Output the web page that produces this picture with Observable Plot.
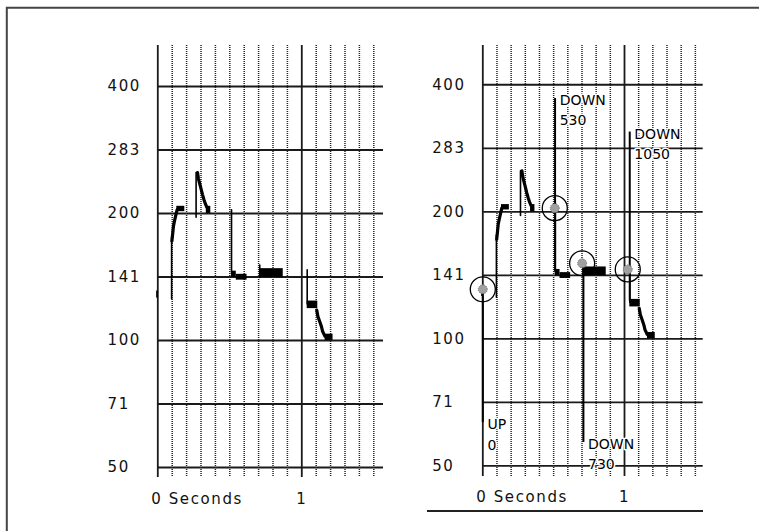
<!DOCTYPE html>
<html>
<head>
<meta charset="utf-8">
<script src="https://cdn.jsdelivr.net/npm/d3@7"></script>
<script src="https://cdn.jsdelivr.net/npm/@observablehq/plot@0.6"></script>
<style>
html, body { margin: 0; padding: 0; background: #fff; }
#wrap { position: relative; width: 764px; height: 531px; overflow: hidden; background: #fff; }
#wrap > svg { position: absolute; top: 0; margin: 0; }
</style>
</head>
<body>
<div id="wrap"></div>
<script>
// ---- axis ticks ----
const yTickValues = [50, 70.71, 100, 141.42, 200, 282.84, 400];
const yTickLabels = ["50", "71", "100", "141", "200", "283", "400"];
const xMajorTicks = [0, 1];
const xMajorLabels = ["0 Seconds", "1"];
const xMinorTicks = [0.1, 0.2, 0.3, 0.4, 0.5, 0.6, 0.7, 0.8, 0.9, 1.1, 1.2, 1.3, 1.4, 1.5];

// ---- pitch track (seconds, Hz) ----
const thinTrack = [
  {seg: "s1", t: 0.096, f: 125.5}, {seg: "s1", t: 0.096, f: 176},
  {seg: "s2", t: 0.266, f: 196}, {seg: "s2", t: 0.266, f: 250},
  {seg: "s3", t: 0.512, f: 204}, {seg: "s3", t: 0.512, f: 144},
  {seg: "s4", t: 0.708, f: 141}, {seg: "s4", t: 0.708, f: 151},
  {seg: "s5", t: 1.0375, f: 147}, {seg: "s5", t: 1.0375, f: 122}
];
const thickTrack = [
  {seg: "r1", t: 0.098, f: 172}, {seg: "r1", t: 0.104, f: 180}, {seg: "r1", t: 0.109, f: 187},
  {seg: "r1", t: 0.116, f: 192}, {seg: "r1", t: 0.122, f: 196}, {seg: "r1", t: 0.128, f: 200},
  {seg: "r1", t: 0.134, f: 204},
  {seg: "p1", t: 0.276, f: 250}, {seg: "p1", t: 0.282, f: 242}, {seg: "p1", t: 0.29, f: 236},
  {seg: "p1", t: 0.3, f: 229}, {seg: "p1", t: 0.31, f: 222}, {seg: "p1", t: 0.32, f: 216},
  {seg: "p1", t: 0.33, f: 211}, {seg: "p1", t: 0.34, f: 207},
  {seg: "d1", t: 1.104, f: 118}, {seg: "d1", t: 1.112, f: 114}, {seg: "d1", t: 1.12, f: 112},
  {seg: "d1", t: 1.128, f: 110}, {seg: "d1", t: 1.136, f: 108}, {seg: "d1", t: 1.145, f: 105},
  {seg: "d1", t: 1.16, f: 102.5}
];
const blocks = [
  {t1: -0.008, t2: 0.004, f1: 126, f2: 131},
  {t1: 0.132, t2: 0.1875, f1: 202, f2: 208},
  {t1: 0.337, t2: 0.368, f1: 200, f2: 208},
  {t1: 0.512, t2: 0.545, f1: 141, f2: 146},
  {t1: 0.545, t2: 0.62, f1: 139, f2: 143.5},
  {t1: 0.708, t2: 0.871, f1: 141, f2: 148},
  {t1: 1.0375, t2: 1.111, f1: 119, f2: 124},
  {t1: 1.162, t2: 1.217, f1: 100, f2: 103.5}
];

// ---- annotations (right panel) ----
const annLabels = ["UP\n0", "DOWN\n530", "DOWN\n730", "DOWN\n1050"];
const annCircleT = [0, 0.508, 0.701, 1.023];
const annCircleF = [131, 204, 151, 146];
const annLineT = [0, 0.51, 0.71, 1.037];
const annLineFrom = [131, 371, 151, 309];
const annLineTo = [63.3, 144, 56.8, 123];
const annTextF = [63.3, 371, 56.8, 309];

const annTable = annLabels.map((label, i) => ({
  label, ct: annCircleT[i], cf: annCircleF[i],
  lt: annLineT[i], lf1: annLineFrom[i], lf2: annLineTo[i], tf: annTextF[i]
}));

function panel({width, ml, mr, mb, xMax, yMin, yMax, padX, padY, withAnn}) {
  const marks = [
    Plot.ruleY(yTickValues, {stroke: "#1a1a1a", strokeWidth: 1.8}),
    Plot.ruleX(xMinorTicks, {stroke: "#222", strokeWidth: 1.5, strokeDasharray: "1,1"}),
    Plot.ruleX(xMajorTicks, {stroke: "#1a1a1a", strokeWidth: 1.8}),
    Plot.rect(blocks, {x1: "t1", x2: "t2", y1: "f1", y2: "f2", fill: "black"}),
    Plot.line(thinTrack, {x: "t", y: "f", z: "seg", stroke: "black", strokeWidth: 1.6}),
    Plot.line(thickTrack, {x: "t", y: "f", z: "seg", stroke: "black", strokeWidth: 3.2}),
    Plot.axisY({ticks: yTickValues, tickSize: 0, tickPadding: padY, textAnchor: "start",
      tickFormat: d => yTickLabels[yTickValues.indexOf(d)]}),
    Plot.axisX({ticks: [xMajorTicks[0]], tickSize: 0, tickPadding: padX, textAnchor: "start", dx: -6.6,
      tickFormat: () => xMajorLabels[0]}),
    Plot.axisX({ticks: [xMajorTicks[1]], tickSize: 0, tickPadding: padX,
      tickFormat: () => xMajorLabels[1]})
  ];
  if (withAnn) {
    marks.push(
      Plot.ruleX(annTable, {x: "lt", y1: "lf1", y2: "lf2", stroke: "black", strokeWidth: 2}),
      Plot.dot(annTable, {x: "ct", y: "cf", r: 4.5, fill: "#a0a0a0", stroke: "#707070",
        strokeWidth: 1, strokeDasharray: "1,1"}),
      Plot.dot(annTable, {x: "ct", y: "cf", r: 12.5, stroke: "black", strokeWidth: 1.3, fill: "none"}),
      Plot.text(annTable, {x: "lt", y: "tf", text: "label", textAnchor: "start", lineAnchor: "top",
        dx: 4.6, dy: -7.8, lineHeight: 1.45, fontSize: 14, fill: "black",
        stroke: "white", strokeWidth: 3, paintOrder: "stroke"})
    );
  }
  const svg = Plot.plot({
    width, height: 531,
    marginLeft: ml, marginRight: mr, marginTop: 45, marginBottom: mb,
    x: {domain: [0, xMax]},
    y: {type: "log", domain: [yMin, yMax]},
    style: {fontFamily: "'DejaVu Sans', sans-serif", fontSize: "15px", letterSpacing: "1.6px",
      color: "#111", background: "transparent", overflow: "visible"},
    marks
  });
  d3.select(svg).selectAll('g[aria-label="text"]').style("letter-spacing", "0px");
  return svg;
}

const wrap = document.getElementById("wrap");

const left = panel({width: 400, ml: 157.3, mr: 17, mb: 54, xMax: 1.5674,
  yMin: 47.34, yMax: 500.3, padX: 15.5, padY: 50.3, withAnn: false});
left.style.left = "0px";
wrap.appendChild(left);

const right = panel({width: 364, ml: 82.3, mr: 61.3, mb: 55, xMax: 1.5554,
  yMin: 47.17, yMax: 495.6, padX: 14.5, padY: 50.6, withAnn: true});
right.style.left = "400px";
wrap.appendChild(right);

// frame decoration and underline
const deco = d3.create("svg").attr("width", 764).attr("height", 531).style("left", "0px")
  .style("pointer-events", "none");
deco.append("path").attr("d", "M6.8,531 V7.7 H759").attr("fill", "none")
  .attr("stroke", "#444").attr("stroke-width", 2);
deco.append("line").attr("x1", 427).attr("x2", 703).attr("y1", 511).attr("y2", 511)
  .attr("stroke", "#222").attr("stroke-width", 2);
wrap.appendChild(deco.node());
</script>
</body>
</html>
